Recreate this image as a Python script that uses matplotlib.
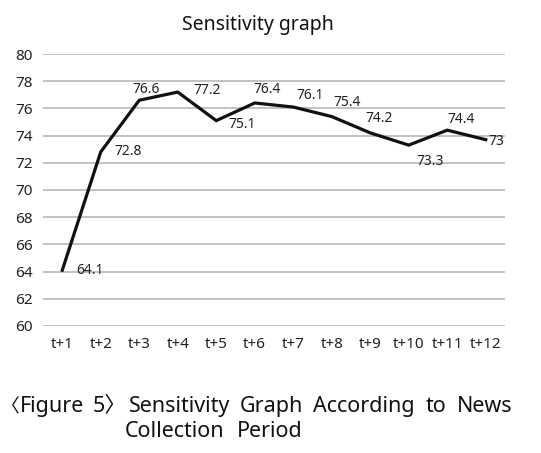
import matplotlib
matplotlib.use("Agg")
import matplotlib.pyplot as plt

categories = ["t+1", "t+2", "t+3", "t+4", "t+5", "t+6", "t+7", "t+8", "t+9", "t+10", "t+11", "t+12"]
values = [64.1, 72.8, 76.6, 77.2, 75.1, 76.4, 76.1, 75.4, 74.2, 73.3, 74.4, 73.7]
value_labels = ["64.1", "72.8", "76.6", "77.2", "75.1", "76.4", "76.1", "75.4", "74.2", "73.3", "74.4", "73"]
y_ticks = [60, 62, 64, 66, 68, 70, 72, 74, 76, 78, 80]

title = "Sensitivity graph"
caption_tag = ["〈", "Figure", "5〉"]
caption_line1 = ["Sensitivity", "Graph", "According", "to", "News"]
caption_line2 = ["Collection", "Period"]

# label offsets in points (dx, dy) and horizontal alignment
label_offsets = [(10, 0, "left"), (10, 0, "left"), (5, 8, "center"), (11, 1, "left"),
                 (9, -3, "left"), (9, 10, "center"), (2, 8, "left"), (1, 10, "left"),
                 (6, 10, "center"), (15, -12, "center"), (10, 8, "center"), (2, -1, "left")]

W, H = 541, 453
fig = plt.figure(figsize=(W / 100, H / 100), dpi=100)
ax = fig.add_axes([43 / W, 1 - 326 / H, (505 - 43) / W, (326 - 54) / H])

x = list(range(len(categories)))
ax.plot(x, values, color="#111111", lw=2.3, solid_joinstyle="miter", zorder=3)
ax.set_xlim(-0.5, len(categories) - 0.5)
ax.set_ylim(60, 80)
ax.set_yticks(y_ticks)
ax.set_xticks(x)
ax.set_xticklabels(categories)
for s in ax.spines.values():
    s.set_visible(False)
ax.tick_params(length=0)
ax.tick_params(axis="y", pad=7.5, labelsize=11, labelcolor="#222222")
ax.tick_params(axis="x", pad=8, labelsize=11, labelcolor="#222222")
for lab in ax.get_xticklabels() + ax.get_yticklabels():
    lab.set_family("Noto Sans")
ax.grid(axis="y", color="#bdbdbd", lw=1.3)
ax.set_axisbelow(True)

for xi, v, t, (dx, dy, ha) in zip(x, values, value_labels, label_offsets):
    ax.annotate(t, (xi, v), xytext=(dx, dy), textcoords="offset points",
                ha=ha, va="center", fontsize=10, family="Noto Sans", color="#222222")

fig.text(258 / W, 1 - 30 / H, title, ha="center", va="baseline",
         fontsize=14, family="Noto Sans", color="#111111")

cap_family = ["Noto Sans", "Noto Sans CJK KR", "DejaVu Sans"]
tag_pos = [(0.5, 13.5), (20, 15.5), (93, 15.5)]
line1_centers = [180, 271, 363.5, 436.5, 485]
line2_centers = [175, 270]
for word, (px, fs) in zip(caption_tag, tag_pos):
    fig.text(px / W, 1 - 412 / H, word, ha="left", va="baseline", fontsize=fs,
             family=cap_family, color="#111111")
for word, cx in zip(caption_line1, line1_centers):
    fig.text(cx / W, 1 - 412 / H, word, ha="center", va="baseline", fontsize=15.5,
             family=cap_family, color="#111111")
for word, cx in zip(caption_line2, line2_centers):
    fig.text(cx / W, 1 - 437 / H, word, ha="center", va="baseline", fontsize=15.5,
             family=cap_family, color="#111111")

fig.savefig("out.png", dpi=100)
